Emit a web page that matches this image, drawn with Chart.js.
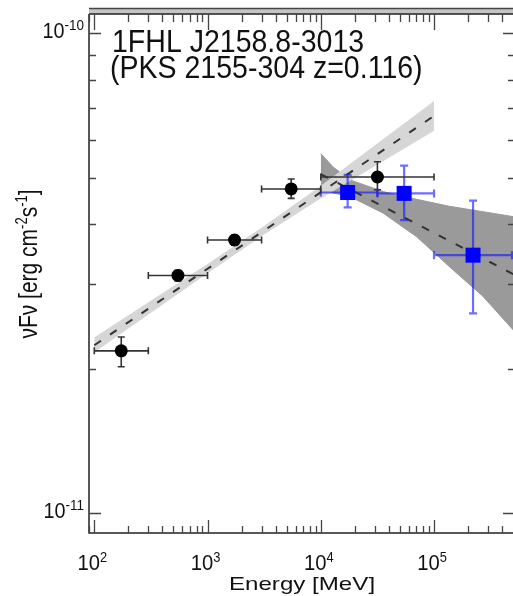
<!DOCTYPE html>
<html>
<head>
<meta charset="utf-8">
<script src="https://cdn.jsdelivr.net/npm/chart.js@4.4.1/dist/chart.umd.min.js"></script>
<style>
    html, body { margin: 0; padding: 0; background: #fff; }
    canvas { display: block; }
</style>
</head>
<body>
<canvas id="sedChart" width="513" height="596"></canvas>
<script>
// Pontos do LAT (círculos pretos)
const latEnergy = [173, 548, 1732, 5477, 31623];
const latEnergyLo = [100, 300, 1000, 3000, 10000];
const latEnergyHi = [300, 1000, 3000, 10000, 100000];
const latFlux = [2.18e-11, 3.13e-11, 3.71e-11, 4.74e-11, 5.02e-11];
const latFluxLo = [2.02e-11, 3.05e-11, 3.62e-11, 4.53e-11, 4.72e-11];
const latFluxHi = [2.33e-11, 3.21e-11, 3.80e-11, 4.97e-11, 5.40e-11];

// Pontos do 1FHL (quadrados azuis)
const fhlEnergy = [17260, 54450, 221000];
const fhlEnergyLo = [10000, 31623, 100000];
const fhlEnergyHi = [31623, 100000, 500000];
const fhlFlux = [4.66e-11, 4.64e-11, 3.45e-11];
const fhlFluxLo = [4.34e-11, 4.08e-11, 2.61e-11];
const fhlFluxHi = [5.07e-11, 5.30e-11, 4.48e-11];

// Ajuste do LAT (linha tracejada + faixa clara)
const latFitEnergy = [100, 100000];
const latFitFlux = [2.24e-11, 6.73e-11];
const latBandEnergy = [100, 1000, 3162, 10000, 100000];
const latBandUpper = [2.32e-11, 3.30e-11, 3.96e-11, 4.80e-11, 7.21e-11];
const latBandLower = [2.17e-11, 3.17e-11, 3.82e-11, 4.54e-11, 6.28e-11];

// Ajuste do 1FHL (linha tracejada + faixa escura)
const fhlFitEnergy = [10000, 500000];
const fhlFitFlux = [5.09e-11, 3.15e-11];
const fhlBandEnergy = [10000, 12800, 18100, 35600, 70100, 137700, 271000, 500000];
const fhlBandUpper = [5.62e-11, 5.27e-11, 4.95e-11, 4.68e-11, 4.51e-11, 4.36e-11, 4.25e-11, 4.15e-11];
const fhlBandLower = [4.71e-11, 4.65e-11, 4.57e-11, 4.22e-11, 3.77e-11, 3.26e-11, 2.83e-11, 2.41e-11];

// Rótulos dos eixos
const xMajor = [1e2, 1e3, 1e4, 1e5];
const xMajorExp = ['2', '3', '4', '5'];
const yMajor = [1e-11, 1e-10];
const yMajorExp = ['-11', '-10'];
const titleLines = ['1FHL J2158.8-3013', '(PKS 2155-304 z=0.116)'];

const FONT = '"Liberation Sans", Arial, Helvetica, sans-serif';

function pairs(xs, ys) {
    return xs.map((x, i) => ({ x: x, y: ys[i] }));
}

// Texto com escala horizontal
function drawText(ctx, text, x, y, size, sx, align) {
    ctx.save();
    ctx.font = size + 'px ' + FONT;
    const w = ctx.measureText(text).width * sx;
    let x0 = x;
    if (align === 'center') x0 = x - w / 2;
    else if (align === 'right') x0 = x - w;
    ctx.translate(x0, y);
    ctx.scale(sx, 1);
    ctx.textAlign = 'left';
    ctx.textBaseline = 'alphabetic';
    ctx.fillText(text, 0, 0);
    ctx.restore();
    return w;
}

// Rótulo 10^n
function drawPow(ctx, exp, x, y, size, sx, align, expRatio) {
    const expSize = Math.round(size * expRatio);
    ctx.font = size + 'px ' + FONT;
    const wb = ctx.measureText('10').width * sx;
    ctx.font = expSize + 'px ' + FONT;
    const we = ctx.measureText(exp).width * sx;
    const x0 = align === 'right' ? x - wb - we : x - (wb + we) / 2;
    drawText(ctx, '10', x0, y, size, sx, 'left');
    drawText(ctx, exp, x0 + wb, y - size * 0.38, expSize, sx, 'left');
}

// Barras de erro desenhadas antes de cada conjunto de pontos
const errorBarPlugin = {
    id: 'errorBars',
    beforeDatasetDraw(chart, args) {
        const ds = chart.data.datasets[args.index];
        if (!ds.errors) return;
        const ctx = chart.ctx;
        const xs = chart.scales.x, ys = chart.scales.y;
        const e = ds.errors;
        ctx.save();
        ctx.strokeStyle = ds.errorColor;
        ctx.lineWidth = ds.errorWidth;
        const cap = ds.errorCap;
        ds.data.forEach((p, i) => {
            const px = xs.getPixelForValue(p.x);
            const py = ys.getPixelForValue(p.y);
            const x1 = xs.getPixelForValue(e.xLo[i]);
            const x2 = Math.min(xs.getPixelForValue(e.xHi[i]), chart.chartArea.right - 1);
            const y1 = ys.getPixelForValue(e.yHi[i]);
            const y2 = ys.getPixelForValue(e.yLo[i]);
            ctx.beginPath();
            ctx.moveTo(x1, py); ctx.lineTo(x2, py);
            ctx.moveTo(x1, py - cap); ctx.lineTo(x1, py + cap);
            ctx.moveTo(x2, py - cap); ctx.lineTo(x2, py + cap);
            ctx.moveTo(px, y1); ctx.lineTo(px, y2);
            ctx.moveTo(px - cap, y1); ctx.lineTo(px + cap, y1);
            ctx.moveTo(px - cap, y2); ctx.lineTo(px + cap, y2);
            ctx.stroke();
        });
        ctx.restore();
    }
};

// Moldura, marcas, rótulos e textos
const framePlugin = {
    id: 'frame',
    afterDraw(chart) {
        const ctx = chart.ctx;
        const xs = chart.scales.x, ys = chart.scales.y;
        const { left, right, top, bottom } = chart.chartArea;
        ctx.save();

        // faixa do painel de cima
        ctx.fillStyle = '#c4c4c4';
        ctx.fillRect(left, top - 5, right - left, 5);
        ctx.strokeStyle = '#444';
        ctx.lineWidth = 1.5;
        ctx.beginPath();
        ctx.moveTo(left, top - 5.5); ctx.lineTo(right, top - 5.5);
        ctx.stroke();

        ctx.strokeStyle = '#222';
        ctx.lineWidth = 1.5;
        ctx.beginPath();
        ctx.moveTo(left, top); ctx.lineTo(right, top);
        ctx.moveTo(left, top); ctx.lineTo(left, bottom); ctx.lineTo(right, bottom);
        ctx.stroke();

        // marcas do eixo x
        ctx.lineWidth = 1.3;
        ctx.strokeStyle = '#444';
        ctx.beginPath();
        for (let d = 1; d <= 5; d++) {
            for (let m = 1; m <= 9; m++) {
                const v = m * Math.pow(10, d);
                if (v <= xs.min || v > xs.max) continue;
                const px = Math.round(xs.getPixelForValue(v)) + 0.5;
                const lb = m === 1 ? 13 : 7;
                const lt = m === 1 ? 16 : 8;
                ctx.moveTo(px, bottom); ctx.lineTo(px, bottom - lb);
                ctx.moveTo(px, top); ctx.lineTo(px, top + lt);
            }
        }
        // marcas do eixo y
        for (let d = -12; d <= -10; d++) {
            for (let m = 1; m <= 9; m++) {
                const v = m * Math.pow(10, d);
                if (v < ys.min || v > ys.max) continue;
                const py = Math.round(ys.getPixelForValue(v)) + 0.5;
                const ll = m === 1 ? 12 : 7;
                const lr = m === 1 ? 10 : 5;
                ctx.moveTo(left, py); ctx.lineTo(left + ll, py);
                ctx.moveTo(right, py); ctx.lineTo(right - lr, py);
            }
        }
        ctx.stroke();

        ctx.fillStyle = '#111';
        // rótulos do eixo x
        xMajor.forEach((v, i) => {
            const px = xs.getPixelForValue(v);
            drawPow(ctx, xMajorExp[i], px - 2, 570, 22, 0.92, 'center', 0.62);
        });
        // rótulos do eixo y
        yMajor.forEach((v, i) => {
            const py = ys.getPixelForValue(v);
            drawPow(ctx, yMajorExp[i], 84, py + 5, 22, 0.9, 'right', 0.68);
        });

        // título do eixo x
        drawText(ctx, 'Energy [MeV]', 302, 590, 19, 1.27, 'center');

        // título do eixo y (girado)
        ctx.save();
        ctx.translate(37, 264);
        ctx.rotate(-Math.PI / 2);
        ctx.scale(1, 1.22);
        const parts = [['νFν [erg cm', 21, 0], ['-2', 13, -8], ['s', 21, 0], ['-1', 13, -8], [']', 21, 0]];
        let total = 0;
        parts.forEach(p => { ctx.font = p[1] + 'px ' + FONT; total += ctx.measureText(p[0]).width; });
        let cx = -total / 2;
        parts.forEach(p => {
            ctx.font = p[1] + 'px ' + FONT;
            ctx.fillText(p[0], cx, p[2]);
            cx += ctx.measureText(p[0]).width;
        });
        ctx.restore();

        // nome da fonte
        drawText(ctx, titleLines[0], 112, 52, 31, 0.92, 'left');
        drawText(ctx, titleLines[1], 110, 77.5, 31, 0.92, 'left');

        ctx.restore();
    }
};

function initSedChart() {
    const canvas = document.getElementById('sedChart');
    if (!canvas) return;

    new Chart(canvas.getContext('2d'), {
        type: 'scatter',
        data: {
            datasets: [
                {
                    type: 'scatter',
                    data: pairs(latEnergy, latFlux),
                    pointStyle: 'circle',
                    pointRadius: 6.5,
                    backgroundColor: '#000',
                    borderColor: '#000',
                    borderWidth: 0,
                    order: 1,
                    errors: { xLo: latEnergyLo, xHi: latEnergyHi, yLo: latFluxLo, yHi: latFluxHi },
                    errorColor: '#333',
                    errorWidth: 1.6,
                    errorCap: 3.5
                },
                {
                    type: 'scatter',
                    data: pairs(fhlEnergy, fhlFlux),
                    pointStyle: 'rect',
                    pointRadius: 10.6,
                    backgroundColor: '#0000ff',
                    borderColor: '#0000ff',
                    borderWidth: 0,
                    order: 2,
                    errors: { xLo: fhlEnergyLo, xHi: fhlEnergyHi, yLo: fhlFluxLo, yHi: fhlFluxHi },
                    errorColor: 'rgba(20, 20, 255, 0.62)',
                    errorWidth: 2.2,
                    errorCap: 4
                },
                {
                    type: 'line',
                    data: pairs(latFitEnergy, latFitFlux),
                    borderColor: '#333',
                    borderWidth: 2,
                    borderDash: [8, 11],
                    pointRadius: 0,
                    fill: false,
                    order: 5
                },
                {
                    type: 'line',
                    data: pairs(fhlFitEnergy, fhlFitFlux),
                    borderColor: '#333',
                    borderWidth: 2,
                    borderDash: [8, 11],
                    pointRadius: 0,
                    fill: false,
                    order: 5
                },
                {
                    type: 'line',
                    data: pairs(latBandEnergy, latBandUpper),
                    borderColor: '#d6d6d6',
                    borderWidth: 1,
                    pointRadius: 0,
                    fill: false,
                    order: 10
                },
                {
                    type: 'line',
                    data: pairs(latBandEnergy, latBandLower),
                    borderColor: '#d6d6d6',
                    backgroundColor: '#d6d6d6',
                    borderWidth: 1,
                    pointRadius: 0,
                    fill: '-1',
                    order: 10
                },
                {
                    type: 'line',
                    data: pairs(fhlBandEnergy, fhlBandUpper),
                    borderColor: '#9a9a9a',
                    borderWidth: 1,
                    pointRadius: 0,
                    fill: false,
                    order: 12
                },
                {
                    type: 'line',
                    data: pairs(fhlBandEnergy, fhlBandLower),
                    borderColor: '#9a9a9a',
                    backgroundColor: '#9a9a9a',
                    borderWidth: 1,
                    pointRadius: 0,
                    fill: '-1',
                    order: 12
                }
            ]
        },
        options: {
            responsive: false,
            animation: false,
            layout: { autoPadding: false, padding: { left: 89, right: 0, top: 14, bottom: 63 } },
            plugins: {
                legend: { display: false },
                tooltip: { enabled: false }
            },
            scales: {
                x: { type: 'logarithmic', min: 89.8, max: 4.98e5, display: false },
                y: { type: 'logarithmic', min: 9.1e-12, max: 1.097e-10, display: false }
            }
        },
        plugins: [errorBarPlugin, framePlugin]
    });
}

document.addEventListener('DOMContentLoaded', initSedChart);
</script>
</body>
</html>
